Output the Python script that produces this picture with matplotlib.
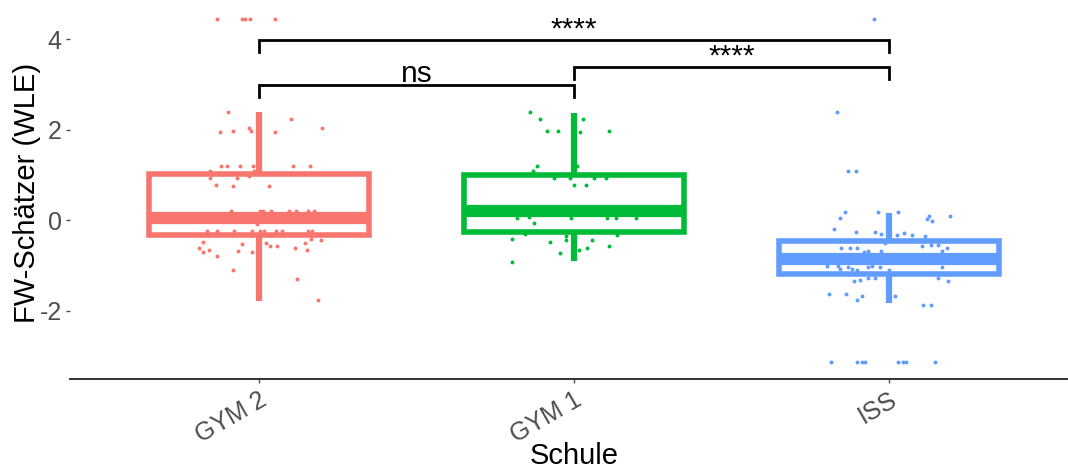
import matplotlib
matplotlib.use("Agg")
import matplotlib.pyplot as plt
import matplotlib.transforms as mtransforms

plt.rcParams['font.family'] = ['Liberation Sans', 'DejaVu Sans']

# ---------------- data ----------------
schools = ["GYM 2", "GYM 1", "ISS"]
colors = ["#F8766D", "#00BA38", "#619CFF"]

q1 = [-0.32, -0.27, -1.18]
med = [0.06, 0.20, -0.85]
q3 = [1.02, 1.01, -0.45]
whislo = [-1.78, -0.91, -1.84]
whishi = [2.40, 2.38, 0.17]

# jittered observations: horizontal offset from the category centre, value
gym2_off = [-0.10, -0.124, -0.083, -0.031, -0.026, 0.051, 0.103, 0.20,
            -0.121, -0.101, -0.061, -0.019, 0.108, 0.163, -0.156, -0.156,
            -0.07, -0.032, -0.016, -0.136, -0.082, 0.032,
            -0.089, 0.003, 0.014, 0.038, 0.094, 0.118, 0.155, 0.176,
            -0.166, -0.132, -0.078, -0.023, 0.003, 0.017, 0.054, 0.074, 0.155, 0.167,
            -0.007, -0.179, -0.19, -0.179, -0.16, -0.132, -0.066, -0.053, -0.022,
            0.021, 0.036, 0.058, 0.113, 0.146, 0.152, 0.165, 0.196,
            -0.082, 0.122, 0.188,
            -0.133, -0.054, -0.044, -0.029, 0.051]
gym2_val = [2.39, 1.95, 1.97, 2.05, 1.97, 1.95, 2.24, 2.05,
            1.20, 1.20, 1.20, 1.20, 1.20, 1.20, 1.10, 0.93,
            0.93, 0.98, 1.09, 0.79, 0.75, 0.75,
            0.21, 0.21, 0.21, 0.21, 0.21, 0.21, 0.21, 0.21,
            -0.24, -0.24, -0.24, -0.24, -0.24, -0.24, -0.24, -0.24, -0.24, -0.24,
            -0.09, -0.47, -0.61, -0.70, -0.66, -0.79, -0.69, -0.52, -0.70,
            -0.50, -0.57, -0.57, -0.61, -0.50, -0.66, -0.42, -0.44,
            -1.11, -1.30, -1.77,
            4.44, 4.44, 4.44, 4.44, 4.44]

gym1_off = [-0.14, -0.108, 0.03, -0.086, -0.051, 0.02, 0.11, -0.117, -0.131,
            0.01, -0.063, -0.014, 0.063, 0.102, 0.001, 0.037,
            -0.182, -0.142, -0.01, 0.106, 0.133, 0.196, -0.128,
            -0.155, 0.137, -0.198, -0.075, -0.025, -0.026, 0.056,
            -0.045, 0.016, 0.042, 0.11, -0.198]
gym1_val = [2.39, 2.24, 2.24, 1.97, 1.97, 1.95, 1.97, 1.21, 1.09,
            1.21, 0.93, 0.93, 0.93, 0.93, 0.79, 0.79,
            0.06, 0.07, 0.06, 0.04, 0.06, 0.06, -0.05,
            -0.31, -0.33, -0.42, -0.47, -0.35, -0.44, -0.44,
            -0.72, -0.66, -0.62, -0.57, -0.93]

iss_off = [-0.164, -0.129, -0.104, -0.141, -0.157, -0.036, 0.028, -0.176,
           0.127, 0.122, 0.137, 0.195, -0.106, -0.043, -0.025, 0.025, 0.047,
           0.074, 0.113, -0.013, 0.106, 0.134, 0.155, -0.152, -0.124, -0.102,
           0.184, -0.08, -0.066, -0.025, 0.169, -0.197, -0.163, -0.156, -0.131,
           -0.117, -0.068, -0.054, -0.03, 0.168, -0.102, -0.067, -0.043, 0.0,
           0.157, -0.11, -0.091, 0.186, -0.19, -0.136, -0.087, -0.103, -0.004,
           0.02, 0.109, 0.132,
           -0.183, -0.102, -0.087, -0.076, 0.028, 0.043, 0.054, 0.145,
           -0.048]
iss_val = [2.39, 1.08, 1.08, 0.19, 0.05, 0.19, 0.19, -0.20,
           0.10, 0.02, -0.01, 0.10, -0.26, -0.26, -0.30, -0.33, -0.29,
           -0.33, -0.35, -0.51, -0.56, -0.55, -0.55, -0.61, -0.61, -0.61,
           -0.61, -0.70, -0.68, -0.68, -0.68, -1.01, -1.01, -1.07, -1.04,
           -1.07, -1.03, -1.01, -1.04, -1.03, -1.10, -1.27, -1.27, -1.10,
           -1.27, -1.35, -1.33, -1.35, -1.63, -1.62, -1.67, -1.77, -1.61,
           -1.67, -1.87, -1.87,
           -3.14, -3.14, -3.14, -3.14, -3.14, -3.14, -3.14, -3.14,
           4.44]

# significance brackets (group positions 1-based), heights, labels
cmp_left = [1, 2, 1]
cmp_right = [2, 3, 3]
cmp_y = [2.98, 3.38, 3.98]
cmp_label = ["ns", "****", "****"]
tip_len = 0.25

yticks = [-2, 0, 2, 4]

# ---------------- figure ----------------
W, H = 1068, 472
fig = plt.figure(figsize=(W / 100, H / 100), dpi=100)
ax = fig.add_axes([70 / W, 1 - 379 / H, 1008 / W, 379 / H])

positions = [1, 2, 3]
stats = []
for i, name in enumerate(schools):
    stats.append(dict(label=name, q1=q1[i], med=med[i], q3=q3[i],
                      whislo=whislo[i], whishi=whishi[i], fliers=[]))

for i in range(3):
    ax.bxp([stats[i]], positions=[positions[i]], widths=0.7,
           showcaps=False, showfliers=False, patch_artist=True,
           boxprops=dict(facecolor="white", edgecolor=colors[i], linewidth=4.0),
           whiskerprops=dict(color=colors[i], linewidth=4.5, solid_capstyle="butt"),
           medianprops=dict(color=colors[i], linewidth=8.8, solid_capstyle="butt"),
           manage_ticks=False, zorder=2)

groups = [(gym2_off, gym2_val), (gym1_off, gym1_val), (iss_off, iss_val)]
for i, (off, val) in enumerate(groups):
    xs = [positions[i] + o for o in off]
    ax.scatter(xs, val, s=8, color=colors[i], marker="o", linewidths=0, zorder=3)

for l, r, y, lab in zip(cmp_left, cmp_right, cmp_y, cmp_label):
    ax.plot([l, l, r, r], [y - tip_len, y, y, y - tip_len], color="black",
            linewidth=2.0, solid_joinstyle="miter", zorder=4)
    ax.text((l + r) / 2, y + 0.07, lab, ha="center", va="baseline",
            fontsize=21.5, color="black", zorder=5)

ax.set_xlim(0.4, 3.6)
ax.set_ylim(-3.51, 4.87)
ax.set_xticks(positions)
ax.set_xticklabels(schools, rotation=30, ha="right", va="top",
                   rotation_mode="anchor")
ax.set_yticks(yticks)
ax.set_yticklabels([str(t) for t in yticks])

shift = mtransforms.ScaledTranslation(7 / 100, 1 / 100, fig.dpi_scale_trans)
for lbl in ax.get_xticklabels():
    lbl.set_transform(lbl.get_transform() + shift)

for s in ["top", "right", "left"]:
    ax.spines[s].set_visible(False)
ax.spines["bottom"].set_color("#333333")
ax.spines["bottom"].set_linewidth(1.4)
ax.tick_params(axis="both", colors="#4D4D4D", labelcolor="#4D4D4D",
               labelsize=18, length=3, width=1, pad=3)
ax.set_facecolor("white")

fig.text(27 / W, 1 - 193 / H, "FW-Schätzer (WLE)", rotation=90,
         ha="center", va="center", fontsize=21, color="black")
fig.text(574 / W, 1 - 456 / H, "Schule", ha="center", va="center",
         fontsize=21, color="black")

fig.savefig("out.png", dpi=100, facecolor="white")
